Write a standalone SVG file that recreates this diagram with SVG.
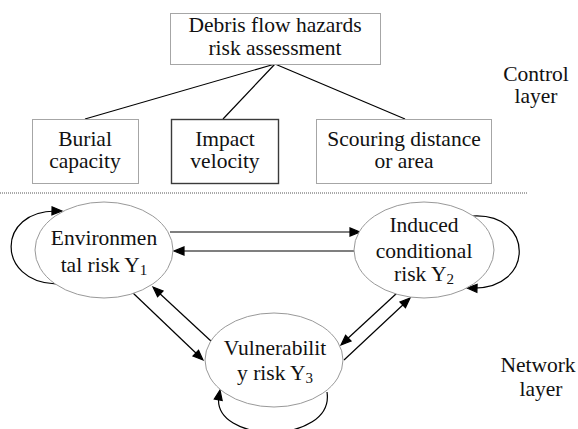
<svg xmlns="http://www.w3.org/2000/svg" width="578" height="429" viewBox="0 0 578 429">
<defs>
<path id="ahead" d="M0,0 L-10,-4 L-10,4 z" fill="#000"/>
</defs>
<g id="connectors" fill="none" stroke="#000" stroke-width="1.2">
<line x1="275" y1="64" x2="85" y2="119"/>
<line x1="275" y1="64" x2="223" y2="119"/>
<line x1="275" y1="64" x2="405" y2="119"/>
<line x1="0" y1="193" x2="528" y2="193" stroke="#555" stroke-width="1" stroke-dasharray="1,1"/>
<line x1="170" y1="232" x2="355" y2="232"/>
<line x1="355" y1="251" x2="179" y2="251"/>
<line x1="133" y1="293" x2="199" y2="356"/>
<line x1="212" y1="342" x2="157" y2="291"/>
<line x1="397" y1="293" x2="345" y2="341"/>
<line x1="344" y1="360" x2="406" y2="302"/>
<path d="M56,284 C-4,282 -4,210 57,211"/>
<path d="M472,216 C535,212 535,290 472,288"/>
<path d="M327,392 C335,445 210,445 219,395"/>
<use href="#ahead" transform="translate(360,232)"/>
<use href="#ahead" transform="translate(174,251) rotate(180)"/>
<use href="#ahead" transform="translate(203,360) rotate(43.7)"/>
<use href="#ahead" transform="translate(153,287) rotate(223)"/>
<use href="#ahead" transform="translate(341,345) rotate(137.1)"/>
<use href="#ahead" transform="translate(410,298) rotate(-43.2)"/>
<use href="#ahead" transform="translate(62,211) rotate(1)"/>
<use href="#ahead" transform="translate(467,288) rotate(181.7)"/>
<use href="#ahead" transform="translate(220,390) rotate(-79.7)"/>
</g>
<g font-family="Liberation Serif, Times New Roman, serif" font-size="21.5" fill="#111" text-anchor="middle">
<g id="top">
<rect x="170.5" y="13.5" width="210" height="51" fill="#fff" stroke="#a6a6a6"/>
<text x="275" y="32">Debris flow hazards</text>
<text x="275" y="55">risk assessment</text>
</g>
<g id="burial">
<rect x="32.5" y="119.5" width="106" height="64" fill="#fff" stroke="#a6a6a6"/>
<text x="85" y="146">Burial</text>
<text x="85" y="168">capacity</text>
</g>
<g id="impact">
<rect x="171.5" y="119.5" width="107" height="64" fill="#fff" stroke="#3a3a3a" stroke-width="1.4"/>
<text x="225" y="146">Impact</text>
<text x="225" y="168">velocity</text>
</g>
<g id="scouring">
<rect x="316.5" y="119.5" width="175" height="64" fill="#fff" stroke="#a6a6a6"/>
<text x="404" y="146">Scouring distance</text>
<text x="404" y="168">or area</text>
</g>
<g id="control-label">
<text x="536" y="81">Control</text>
<text x="536" y="103">layer</text>
</g>
<g id="env">
<ellipse cx="104" cy="250" rx="69" ry="48" fill="#fff" stroke="#999"/>
<text x="104" y="245">Environmen</text>
<text x="104" y="272">tal risk Y<tspan font-size="15" dy="3">1</tspan></text>
</g>
<g id="induced">
<ellipse cx="424" cy="250" rx="70" ry="48" fill="#fff" stroke="#999"/>
<text x="424" y="232">Induced</text>
<text x="424" y="258">conditional</text>
<text x="424" y="281">risk Y<tspan font-size="15" dy="3">2</tspan></text>
</g>
<g id="vuln">
<ellipse cx="274" cy="360" rx="69" ry="47" fill="#fff" stroke="#999"/>
<text x="275" y="355">Vulnerabilit</text>
<text x="275" y="380">y risk Y<tspan font-size="15" dy="3">3</tspan></text>
</g>
<g id="network-label">
<text x="538" y="372">Network</text>
<text x="541" y="396">layer</text>
</g>
</g>
</svg>
